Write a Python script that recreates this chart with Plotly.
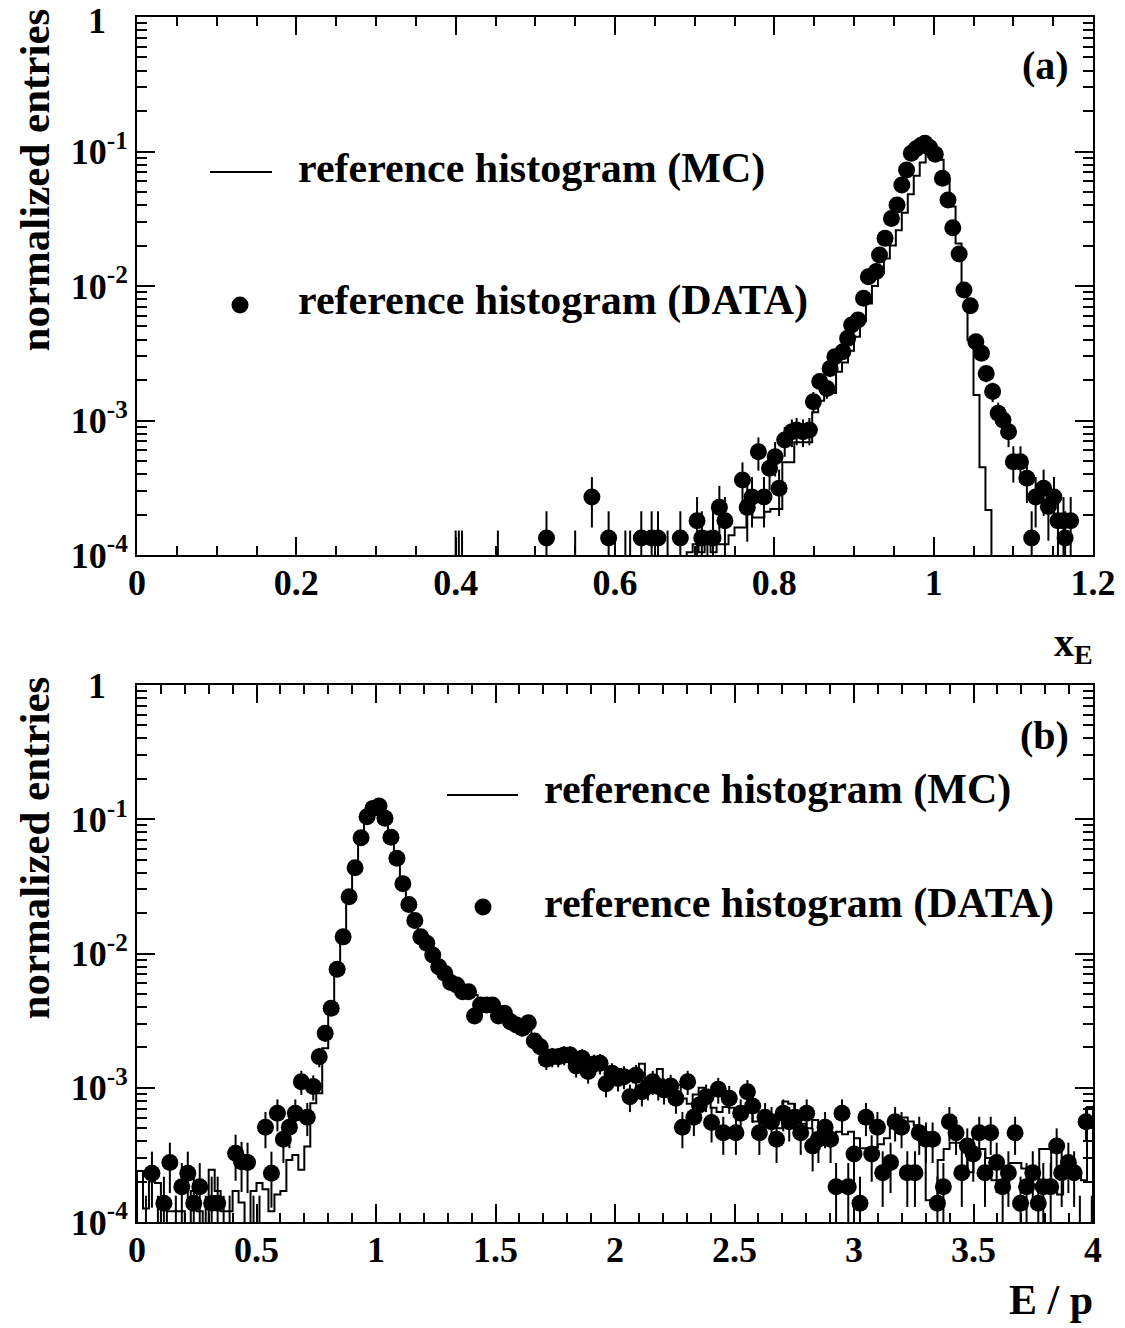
import numpy as np
import plotly.graph_objects as go

FONT = "Liberation Serif"

# ---------------- panel (a): x_E ----------------
a_x = [0.514, 0.571, 0.592, 0.633, 0.646, 0.654, 0.682, 0.703, 0.709, 0.723,
       0.731, 0.738, 0.760, 0.766, 0.772, 0.780, 0.787, 0.794, 0.801, 0.806,
       0.813, 0.822, 0.828, 0.836, 0.844, 0.849, 0.857, 0.866, 0.870, 0.876,
       0.886, 0.892, 0.897, 0.905, 0.912, 0.918, 0.928, 0.932, 0.939, 0.947,
       0.954, 0.960, 0.966, 0.972, 0.978, 0.984, 0.989, 0.995, 1.002, 1.011,
       1.018, 1.024, 1.032, 1.038, 1.046, 1.053, 1.060, 1.066, 1.074, 1.081,
       1.087, 1.094, 1.100, 1.109, 1.117, 1.123, 1.128, 1.138, 1.144, 1.151,
       1.156, 1.163, 1.165, 1.172]
a_y = [1.34e-4, 2.7e-4, 1.34e-4, 1.34e-4, 1.34e-4, 1.34e-4, 1.34e-4, 1.8e-4, 1.34e-4, 1.34e-4,
       2.26e-4, 1.8e-4, 3.61e-4, 2.26e-4, 2.7e-4, 5.86e-4, 2.7e-4, 4.42e-4, 5.38e-4, 3.13e-4,
       7.16e-4, 8.26e-4, 8.49e-4, 8.26e-4, 8.49e-4, 1.38e-3, 1.95e-3, 1.73e-3, 2.44e-3, 2.98e-3,
       3.25e-3, 4.08e-3, 5.13e-3, 5.58e-3, 8.11e-3, 1.17e-2, 1.28e-2, 1.70e-2, 2.26e-2, 3.18e-2,
       4.0e-2, 5.64e-2, 7.28e-2, 9.7e-2, 0.105, 0.111, 0.115, 0.107, 0.0955, 0.0632,
       0.0436, 0.0271, 0.0173, 9.33e-3, 7.13e-3, 3.85e-3, 3.16e-3, 2.24e-3, 1.64e-3, 1.13e-3,
       1.01e-3, 8.26e-4, 4.94e-4, 4.94e-4, 3.72e-4, 1.34e-4, 2.7e-4, 3.13e-4, 2.29e-4, 2.7e-4,
       1.8e-4, 1.8e-4, 1.34e-4, 1.8e-4]
# bins whose content lies below the axis (only the error bar is visible)
a_low_x = [0.400, 0.404, 0.408, 0.453, 0.550, 0.613, 0.619, 0.666, 0.716]
a_low_y = [8.9e-5, 8.9e-5, 8.9e-5, 8.9e-5, 8.9e-5, 8.9e-5, 8.9e-5, 8.9e-5, 8.9e-5]
a_unit = 4.47e-5   # weight of one entry

mc_a_start, mc_a_width = 0.69, 0.0075
mc_a_vals = [1.05e-4, 1.2e-4, 1.05e-4, 1.2e-4, 1.05e-4, 1.2e-4, 1.2e-4, 1.4e-4, 1.6e-4, 1.6e-4,
             2.2e-4, 1.9e-4, 1.9e-4, 2.1e-4, 2.2e-4, 2.2e-4, 4.9e-4, 4.9e-4, 6.9e-4, 6.9e-4,
             6.9e-4, 1.15e-3, 1.4e-3, 1.6e-3, 1.6e-3, 2.3e-3, 2.7e-3, 3.3e-3, 4.2e-3, 5.5e-3,
             7.4e-3, 1.0e-2, 1.25e-2, 1.6e-2, 2.0e-2, 2.6e-2, 3.5e-2, 4.8e-2, 6.6e-2, 8.3e-2,
             9.5e-2, 0.098, 0.087, 0.062, 0.039, 0.0207, 9.3e-3, 3.97e-3, 1.55e-3, 4.5e-4,
             2.16e-4]

# ---------------- panel (b): E/p ----------------
b_x = [0.0625, 0.1125, 0.1375, 0.1875, 0.2125, 0.2375, 0.2625, 0.3125, 0.3375, 0.4125,
       0.4375, 0.4625, 0.5375, 0.5625, 0.5875, 0.6125, 0.6375, 0.6625, 0.6875, 0.7125,
       0.7375, 0.7625, 0.7875, 0.8125, 0.8375, 0.8625, 0.8875, 0.9125, 0.9375, 0.9625,
       0.9875, 1.0125, 1.0375, 1.0625, 1.0875, 1.1125, 1.1375, 1.1625, 1.1875, 1.2125,
       1.2375, 1.2625, 1.2875, 1.3125, 1.3375, 1.3625, 1.3875, 1.4125, 1.4375, 1.4625,
       1.4875, 1.5125, 1.5375, 1.5625, 1.5875, 1.6125, 1.6375, 1.6625, 1.6875, 1.7125,
       1.7375, 1.7625, 1.7875, 1.8125, 1.8375, 1.8625, 1.8875, 1.9125, 1.9375, 1.9625,
       1.9875, 2.0125, 2.0375, 2.0625, 2.0875, 2.1125, 2.1375, 2.158, 2.181, 2.205,
       2.233, 2.255, 2.282, 2.304, 2.330, 2.353, 2.381, 2.404, 2.432, 2.453,
       2.478, 2.506, 2.526, 2.554, 2.576, 2.604, 2.628, 2.655, 2.676, 2.704,
       2.729, 2.753, 2.777, 2.802, 2.827, 2.851, 2.879, 2.902, 2.925, 2.950,
       2.976, 3.000, 3.025, 3.050, 3.074, 3.098, 3.120, 3.153, 3.172, 3.199,
       3.223, 3.255, 3.273, 3.301, 3.329, 3.349, 3.374, 3.399, 3.427, 3.451,
       3.474, 3.499, 3.524, 3.548, 3.572, 3.597, 3.622, 3.646, 3.674, 3.697,
       3.722, 3.748, 3.771, 3.792, 3.823, 3.848, 3.869, 3.897, 3.921, 3.971]
b_y = [2.31e-4, 1.38e-4, 2.77e-4, 1.83e-4, 2.31e-4, 1.38e-4, 1.83e-4, 1.38e-4, 1.38e-4, 3.25e-4,
       2.81e-4, 2.77e-4, 5.07e-4, 2.31e-4, 6.46e-4, 4.13e-4, 5.07e-4, 6.46e-4, 1.11e-3, 6.03e-4,
       1.02e-3, 1.70e-3, 2.55e-3, 3.91e-3, 7.62e-3, 1.33e-2, 2.65e-2, 4.36e-2, 7.28e-2, 0.1045,
       0.1205, 0.1256, 0.1016, 0.0733, 0.0512, 0.0331, 0.0232, 0.0176, 0.0133, 0.0119,
       9.75e-3, 7.98e-3, 7.13e-3, 6.07e-3, 5.82e-3, 5.19e-3, 5.19e-3, 3.42e-3, 4.13e-3, 4.13e-3,
       4.13e-3, 3.42e-3, 3.59e-3, 3.10e-3, 2.93e-3, 2.77e-3, 3.05e-3, 2.23e-3, 2.02e-3, 1.63e-3,
       1.70e-3, 1.70e-3, 1.75e-3, 1.75e-3, 1.45e-3, 1.66e-3, 1.32e-3, 1.50e-3, 1.52e-3, 1.07e-3,
       1.28e-3, 1.17e-3, 1.21e-3, 8.57e-4, 1.24e-3, 9.33e-4, 1.02e-3, 1.11e-3, 1.02e-3, 9.62e-4,
       1.03e-3, 8.36e-4, 5.07e-4, 1.11e-3, 6.03e-4, 7.45e-4, 8.57e-4, 5.5e-4, 9.73e-4, 4.62e-4,
       8.36e-4, 4.62e-4, 6.46e-4, 9.33e-4, 7.31e-4, 4.62e-4, 6.03e-4, 5.58e-4, 4.13e-4, 6.46e-4,
       5.58e-4, 6.03e-4, 4.62e-4, 6.46e-4, 3.68e-4, 4.13e-4, 5.07e-4, 4.13e-4, 1.83e-4, 6.46e-4,
       1.83e-4, 3.21e-4, 1.38e-4, 6.03e-4, 3.21e-4, 5.07e-4, 2.33e-4, 2.77e-4, 5.58e-4, 5.07e-4,
       2.33e-4, 2.33e-4, 4.62e-4, 4.13e-4, 4.13e-4, 1.38e-4, 1.83e-4, 5.58e-4, 4.62e-4, 2.33e-4,
       3.68e-4, 3.21e-4, 4.62e-4, 2.33e-4, 4.62e-4, 2.77e-4, 1.83e-4, 2.33e-4, 4.62e-4, 1.38e-4,
       1.83e-4, 2.33e-4, 1.38e-4, 1.83e-4, 1.83e-4, 3.68e-4, 2.33e-4, 2.77e-4, 2.33e-4, 5.58e-4]
b_low_x = [0.0375, 0.0875, 0.1625, 0.2875, 0.3625, 0.3875, 0.4875, 0.5125, 3.945, 3.995]
b_low_y = [9.2e-5, 9.2e-5, 9.2e-5, 9.2e-5, 9.2e-5, 9.2e-5, 9.2e-5, 9.2e-5, 9.2e-5, 9.2e-5]
b_unit = 4.6e-5

mc_b_start, mc_b_width = 0.0, 0.025
mc_b_vals = [2.4e-4, 1.26e-4, 2.0e-4, 1.95e-4, 0, 1.2e-4, 1.2e-4, 1.2e-4, 0, 1.7e-4,
             1.2e-4, 0, 2.45e-4, 1.7e-4, 1.2e-4, 1.2e-4, 1.7e-4, 1.4e-4, 0, 1.7e-4,
             1.95e-4, 1.75e-4, 1.2e-4, 1.6e-4, 1.7e-4, 2.9e-4, 3.15e-4, 2.45e-4, 3.65e-4, 7.65e-4,
             9.1e-4, 1.97e-3, 4.38e-3, 7.98e-3, 1.32e-2, 2.4e-2, 4.17e-2, 7.08e-2, 0.102, 0.12,
             0.123, 0.102, 0.0741, 0.0513, 0.0339, 0.024, 0.0182, 0.0138, 0.0117, 0.0102,
             8.5e-3, 7.4e-3, 6.76e-3, 6.3e-3, 5.6e-3, 5.25e-3, 4.9e-3, 4.57e-3, 4.37e-3, 4.17e-3,
             3.89e-3, 3.72e-3, 3.47e-3, 3.24e-3, 3.02e-3, 2.82e-3, 2.51e-3, 2.19e-3, 1.91e-3, 1.82e-3,
             1.82e-3, 1.74e-3, 1.82e-3, 1.66e-3, 1.58e-3, 1.66e-3, 1.51e-3, 1.58e-3, 1.41e-3, 1.32e-3,
             1.38e-3, 1.26e-3, 1.32e-3, 1.1e-3, 1.51e-3, 1.15e-3, 1.05e-3, 1.38e-3, 9.5e-4, 9.1e-4,
             1.05e-3, 8.3e-4, 7.6e-4, 8.9e-4, 1.0e-3, 7.9e-4, 7.1e-4, 6.6e-4, 7.2e-4, 7.1e-4,
             6.3e-4, 6.0e-4, 7.1e-4, 5.6e-4, 5.75e-4, 5.4e-4, 5.5e-4, 5.0e-4, 7.9e-4, 7.6e-4,
             6.0e-4, 5.4e-4, 5.0e-4, 5.75e-4, 5.5e-4, 5.0e-4, 4.0e-4, 4.7e-4, 4.5e-4, 4.7e-4,
             4.2e-4, 3.55e-4, 3.2e-4, 3.6e-4, 3.8e-4, 4.2e-4, 5.0e-4, 6.0e-4, 6.0e-4, 5.6e-4,
             5.25e-4, 5.0e-4, 1.45e-4, 1.45e-4, 2.9e-4, 3.5e-4, 3.9e-4, 3.9e-4, 3.6e-4, 2.35e-4,
             3.5e-4, 3.5e-4, 3.0e-4, 2.05e-4, 2.05e-4, 2.0e-4, 2.75e-4, 2.75e-4, 2.5e-4, 2.05e-4,
             1.9e-4, 3.5e-4, 3.5e-4, 1.8e-4, 1.6e-4, 2.5e-4, 2.5e-4, 2.4e-4, 2.05e-4, 7.2e-4]

# ---------------- helpers ----------------
FLOOR = 1e-7


def step_trace(start, width, vals, xa, ya):
    edges = start + width * np.arange(len(vals) + 1)
    v = [val if val > 0 else FLOOR for val in vals]
    xs = [edges[0]] + list(edges[:-1]) + [edges[-1], edges[-1]]
    ys = [FLOOR] + v + [v[-1], FLOOR]
    return go.Scatter(x=xs, y=ys, mode="lines", xaxis=xa, yaxis=ya,
                      line=dict(color="black", width=2, shape="hv"),
                      hoverinfo="skip", showlegend=False)


def data_trace(xv, yv, lx, ly, unit, xa, ya):
    x = list(xv) + list(lx)
    y = np.array(list(yv) + list(ly))
    err = np.sqrt(y * unit)
    errm = np.minimum(err, 0.99 * y)
    sizes = [17] * len(xv) + [0] * len(lx)
    return go.Scatter(x=x, y=y, mode="markers", xaxis=xa, yaxis=ya,
                      marker=dict(size=sizes, color="black", opacity=1, line=dict(width=0)),
                      error_y=dict(type="data", symmetric=False, array=err,
                                   arrayminus=errm, width=0, thickness=2, color="black"),
                      hoverinfo="skip", showlegend=False)


fig = go.Figure()
fig.add_trace(step_trace(mc_a_start, mc_a_width, mc_a_vals, "x", "y"))
fig.add_trace(data_trace(a_x, a_y, a_low_x, a_low_y, a_unit, "x", "y"))
fig.add_trace(step_trace(mc_b_start, mc_b_width, mc_b_vals, "x2", "y2"))
fig.add_trace(data_trace(b_x, b_y, b_low_x, b_low_y, b_unit, "x2", "y2"))

# ---------------- layout ----------------
W, H = 1125, 1328
L, R, T, B = 137, 1093, 17, 1222
TOP_A, BOT_A, TOP_B = 17, 555, 685


def px(p):
    return (p - L) / (R - L)


def py(p):
    return (B - p) / (B - T)


tickfont = dict(family=FONT, size=36, color="black", weight="bold")
axis_common = dict(showline=True, linecolor="black", linewidth=2, mirror="ticks",
                   ticks="inside", ticklen=18, tickwidth=2, tickcolor="black",
                   showgrid=False, zeroline=False, tickfont=tickfont, automargin=False,
                   ticklabeloverflow="allow")

y_major = [1e-4, 1e-3, 1e-2, 1e-1, 1]
y_text = ["10<sup>-4</sup>", "10<sup>-3</sup>", "10<sup>-2</sup>", "10<sup>-1</sup>", ""]
y_minor = [m * 10.0 ** e for e in range(-4, 0) for m in range(2, 10)]

yaxis_common = dict(axis_common, type="log", range=[-4, 0], tickmode="array",
                    tickvals=y_major, ticktext=y_text,
                    minor=dict(tickmode="array", tickvals=y_minor, ticks="inside",
                               ticklen=10, tickwidth=2, tickcolor="black", showgrid=False))

fig.update_layout(
    width=W, height=H,
    margin=dict(l=L, r=W - R, t=T, b=H - B, autoexpand=False),
    plot_bgcolor="white", paper_bgcolor="white", showlegend=False,
    xaxis=dict(axis_common, anchor="y", domain=[0, 1], range=[0, 1.2],
               tick0=0, dtick=0.2, ticklabelstandoff=-5,
               minor=dict(dtick=0.05, ticks="inside", ticklen=9, tickwidth=2,
                          tickcolor="black", showgrid=False)),
    yaxis=dict(yaxis_common, anchor="x", domain=[py(BOT_A), 1]),
    xaxis2=dict(axis_common, anchor="y2", domain=[0, 1], range=[0, 4],
                tick0=0, dtick=0.5, ticklabelstandoff=-5,
                minor=dict(dtick=0.1, ticks="inside", ticklen=9, tickwidth=2,
                           tickcolor="black", showgrid=False)),
    yaxis2=dict(yaxis_common, anchor="x2", domain=[0, py(TOP_B)]),
)

lab = dict(family=FONT, size=42, color="black", weight="bold")
ann = []


def add_text(text, x, y, xanchor="left", yanchor="middle", font=lab, angle=0):
    ann.append(dict(text=text, x=x, y=y, xref="paper", yref="paper", xanchor=xanchor,
                    yanchor=yanchor, showarrow=False, font=font, textangle=angle))


# the "1" labels at the top of both log axes (ROOT style, left of the exponent column)
add_text("1", px(108), py(21), "right", "middle", tickfont)
add_text("1", px(108), py(686), "right", "middle", tickfont)
add_text("normalized entries", px(34), py(7), "center", "top", dict(lab, size=43), angle=-90)
add_text("normalized entries", px(34), py(675), "center", "top", dict(lab, size=43), angle=-90)
add_text("(a)", px(1071), py(66), "right", "middle", dict(lab, size=40))
add_text("(b)", px(1071), py(735), "right", "middle", dict(lab, size=40))
add_text("reference histogram (MC)", px(296), py(168))
add_text("reference histogram (DATA)", px(296), py(300))
add_text("reference histogram (MC)", px(542), py(790))
add_text("reference histogram (DATA)", px(542), py(903))
add_text("x<sub>E</sub>", px(1095), py(645), "right", "middle", dict(lab, size=40))
add_text("E / p", px(1095), py(1300), "right", "middle", dict(lab, size=42))
fig.update_layout(annotations=ann)

shapes = []
for (x0, x1, yy) in [(210, 272, 172), (447, 518, 795)]:
    shapes.append(dict(type="line", xref="paper", yref="paper", x0=px(x0), x1=px(x1),
                       y0=py(yy), y1=py(yy), line=dict(color="black", width=2)))
for (cx, cy) in [(240, 305), (483, 907)]:
    r = 8.5
    shapes.append(dict(type="circle", xref="paper", yref="paper",
                       x0=px(cx - r), x1=px(cx + r), y0=py(cy + r), y1=py(cy - r),
                       fillcolor="black", line=dict(color="black", width=0)))
fig.update_layout(shapes=shapes)

fig.write_html("out.html")
